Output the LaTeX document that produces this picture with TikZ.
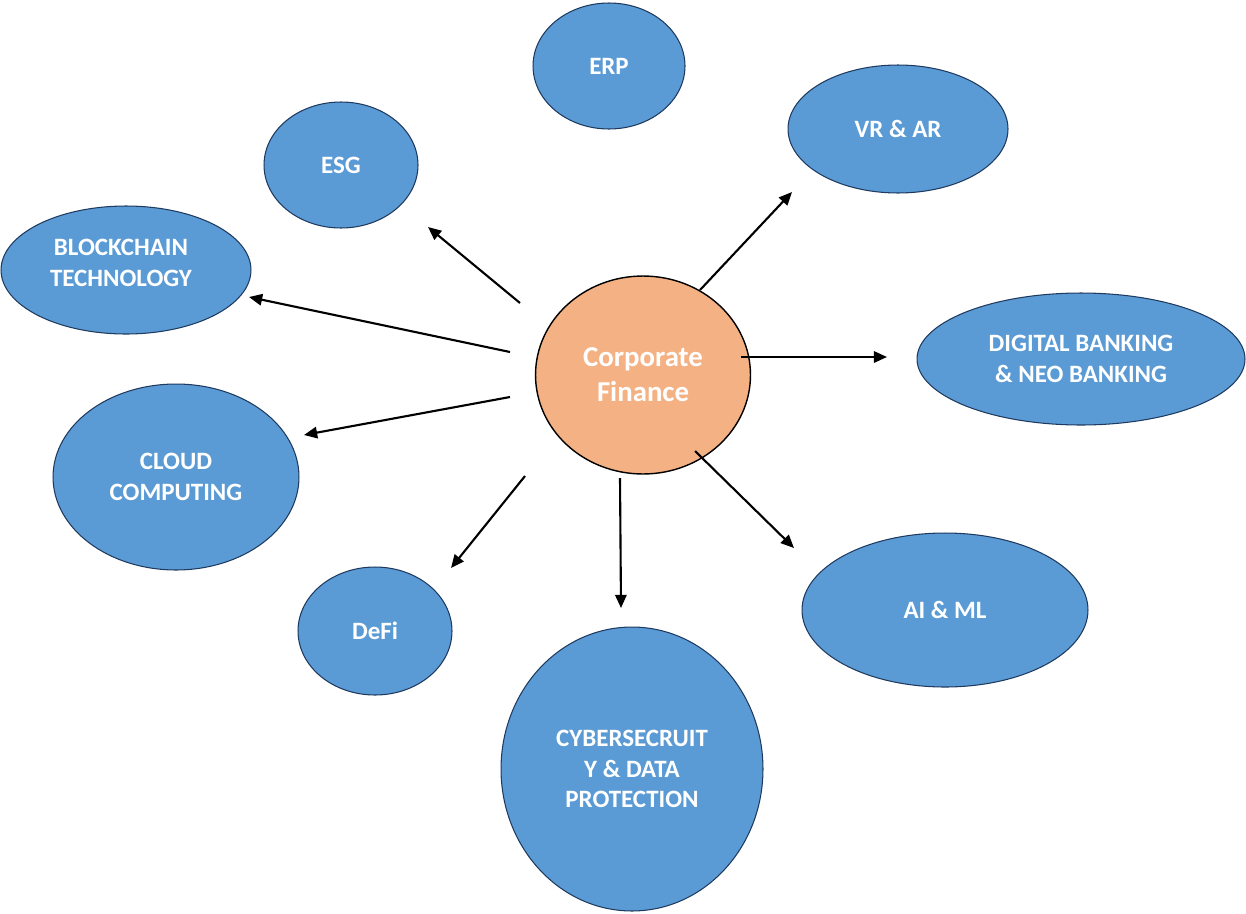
\documentclass[tikz,border=0pt]{standalone}
\usepackage{fontspec}
\setmainfont{Carlito}
\usetikzlibrary{shapes.geometric,arrows.meta}
\definecolor{bluefill}{HTML}{5B9BD5}
\definecolor{blueline}{HTML}{1F3A5F}
\definecolor{orangefill}{HTML}{F4B183}
\tikzset{
  lbl/.style={text=white, align=center, inner sep=0pt, font=\fontsize{14.2}{17.5}\selectfont\bfseries},
  bub/.style={ellipse, draw=blueline, line width=0.6pt, fill=bluefill, inner sep=0pt, lbl},
  core/.style={ellipse, draw=black, line width=0.8pt, fill=orangefill, inner sep=0pt,
    text=white, align=center, font=\fontsize{16.4}{19.8}\selectfont\bfseries},
  arr/.style={-{Triangle[length=7.5pt,width=6.5pt]}, line width=1.2pt, black}
}
\begin{document}
\begin{tikzpicture}[x=0.02cm,y=-0.02cm]
\useasboundingbox (0,0) rectangle (1246,913);
\node[bub, minimum width=3.04cm, minimum height=2.52cm] (erp) at (609,66) {ERP};
\node[bub, minimum width=4.40cm, minimum height=2.56cm] (vr) at (898,129) {VR \& AR};
\node[bub, minimum width=3.08cm, minimum height=2.52cm] (esg) at (341,165) {ESG};
\node[bub, minimum width=5.00cm, minimum height=2.56cm] (bc) at (126,270) {};
\node[lbl] (bctext) at (121,263) {BLOCKCHAIN\\TECHNOLOGY};
\node[bub, minimum width=6.56cm, minimum height=2.64cm] (dig) at (1081,359) {DIGITAL BANKING\\\& NEO BANKING};
\node[bub, minimum width=4.92cm, minimum height=3.72cm] (cloud) at (176,477) {CLOUD\\COMPUTING};
\node[core, minimum width=4.30cm, minimum height=3.96cm] (cf) at (643,375) {Corporate\\Finance};
\node[bub, minimum width=3.08cm, minimum height=2.56cm] (defi) at (375,631) {DeFi};
\node[bub, minimum width=5.72cm, minimum height=3.08cm] (ai) at (945,610) {AI \& ML};
\node[bub, minimum width=5.24cm, minimum height=5.68cm] (cyb) at (632,769) {CYBERSECRUIT\\Y \& DATA\\PROTECTION};
% arrow end points
\coordinate (s1) at (700,290); \coordinate (e1) at (792,192);
\coordinate (s2) at (520,303); \coordinate (e2) at (428,227);
\coordinate (s3) at (510,352); \coordinate (e3) at (249,297);
\coordinate (s4) at (741,357); \coordinate (e4) at (887,357);
\coordinate (s5) at (510,397); \coordinate (e5) at (304,435);
\coordinate (s6) at (525,476); \coordinate (e6) at (451,568);
\coordinate (s7) at (620,478); \coordinate (e7) at (621,608);
\coordinate (s8) at (695,451); \coordinate (e8) at (794,548);
\draw[arr] (s1) -- (e1);
\draw[arr] (s2) -- (e2);
\draw[arr] (s3) -- (e3);
\draw[arr] (s4) -- (e4);
\draw[arr] (s5) -- (e5);
\draw[arr] (s6) -- (e6);
\draw[arr] (s7) -- (e7);
\draw[arr] (s8) -- (e8);
\end{tikzpicture}
\end{document}
